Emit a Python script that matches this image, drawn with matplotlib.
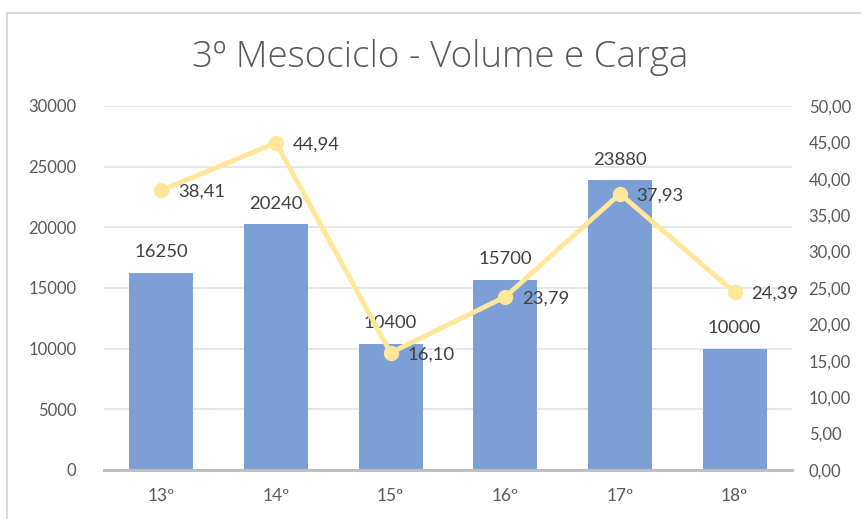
import matplotlib
matplotlib.use("Agg")
import matplotlib.pyplot as plt
from matplotlib.lines import Line2D

categories = ["13º", "14º", "15º", "16º", "17º", "18º"]
volume = [16250, 20240, 10400, 15700, 23880, 10000]
carga = [38.41, 44.94, 16.10, 23.79, 37.93, 24.39]
left_ticks = [0, 5000, 10000, 15000, 20000, 25000, 30000]
right_ticks = [0, 5, 10, 15, 20, 25, 30, 35, 40, 45, 50]
title = "3º Mesociclo - Volume e Carga"

plt.rcParams['font.family'] = ['Lato', 'DejaVu Sans']
W, H = 861, 519
fig = plt.figure(figsize=(W / 100, H / 100), dpi=100)
ax = fig.add_axes([104 / W, 1 - 470 / H, (792 - 104) / W, (470 - 106) / H])
ax2 = ax.twinx()

txt = "#595959"
lbl = "#404040"
x = list(range(len(categories)))
ax.bar(x, volume, width=0.556, color="#7C9FD6", zorder=2)
ax.set_xlim(-0.5, len(categories) - 0.5)
ax.set_ylim(0, 30000)
ax.set_yticks(left_ticks)
ax.set_yticklabels([str(v) for v in left_ticks])
ax.set_xticks(x)
ax.set_xticklabels(categories)
ax.grid(axis='y', color="#E3E3E3", linewidth=1.2, zorder=0)
ax.set_axisbelow(True)
for s in ["top", "right", "left"]:
    ax.spines[s].set_visible(False)
ax.spines["bottom"].set_color("#BFBFBF")
ax.spines["bottom"].set_linewidth(2.2)
ax.tick_params(axis='y', length=0, pad=20, labelsize=12, labelcolor=txt)
ax.tick_params(axis='x', length=0, pad=13, labelsize=12.5, labelcolor=txt)

for xi, v in zip(x, volume):
    ax.annotate(str(v), (xi, v), xytext=(0, 9), textcoords="offset points",
                ha="center", va="bottom", fontsize=13.3, color=lbl, zorder=5)

ax2.set_ylim(0, 50)
ax2.set_yticks(right_ticks)
ax2.set_yticklabels([f"{v:.2f}".replace(".", ",") for v in right_ticks])
for s in ["top", "right", "left", "bottom"]:
    ax2.spines[s].set_visible(False)
ax2.tick_params(axis='y', length=0, pad=12, labelsize=12, labelcolor=txt)
ax2.plot(x, carga, color="#FFE699", linewidth=3.5, marker="o", markersize=10,
         solid_capstyle="round", zorder=4)
for xi, v in zip(x, carga):
    ax2.annotate(f"{v:.2f}".replace(".", ","), (xi, v), xytext=(12, -1),
                 textcoords="offset points", ha="left", va="center",
                 fontsize=13.3, color=lbl, zorder=5)

fig.text(440 / W, 1 - 57 / H, title, ha="center", va="center", fontsize=26.5,
         color=txt, family=['Open Sans', 'DejaVu Sans'], fontweight=300)

# chart frame (cropped)
fig.add_artist(Line2D([7 / W, 7 / W], [0, 1 - 13 / H], transform=fig.transFigure,
                      color="#D9D9D9", linewidth=1.5))
fig.add_artist(Line2D([7 / W, 1], [1 - 13 / H, 1 - 13 / H], transform=fig.transFigure,
                      color="#D9D9D9", linewidth=1.5))

fig.savefig("out.png", dpi=100)
